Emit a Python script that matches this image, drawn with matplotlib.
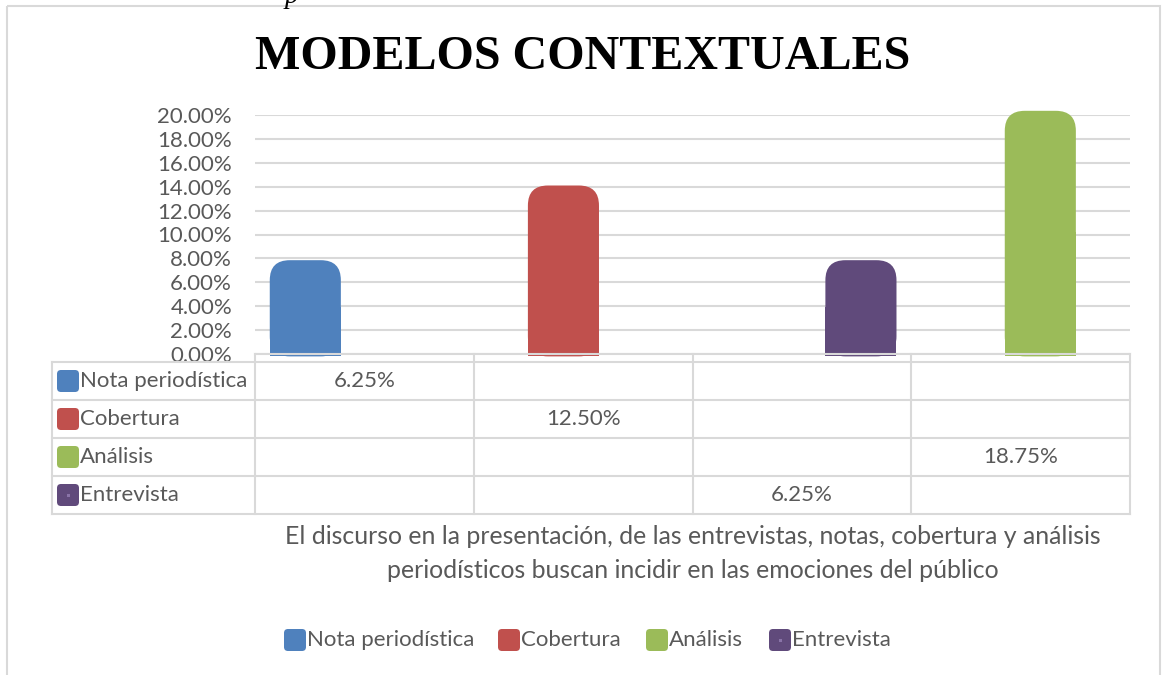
import numpy as np
import matplotlib
matplotlib.use('Agg')
import matplotlib.pyplot as plt
from matplotlib.patches import FancyBboxPatch, Rectangle
from matplotlib.ticker import FuncFormatter

# 数据
series = ['Nota periodística', 'Cobertura', 'Análisis', 'Entrevista']
colors = ['#4f81bd', '#c0504d', '#9bbb59', '#604a7b']
nota = [6.25, None, None, None]
cobertura = [None, 12.50, None, None]
analisis = [None, None, None, 18.75]
entrevista = [None, None, 6.25, None]
values = [nota, cobertura, analisis, entrevista]
n_cat = 4
yticks = np.arange(0, 20.01, 2)
titulo = 'MODELOS CONTEXTUALES'
eje_x = ['El discurso en la presentación, de las entrevistas, notas, cobertura y análisis',
         'periodísticos buscan incidir en las emociones del público']

plt.rcParams['font.family'] = ['Lato', 'DejaVu Sans']
gray = '#595959'
grid = '#d9d9d9'
fs = 16

W, H = 1166, 675
fig = plt.figure(figsize=(W / 100, H / 100), dpi=100)

# 绘图区 (像素)
L, R, T, B = 255, 1130, 115, 354
ax = fig.add_axes([L / W, 1 - B / H, (R - L) / W, (B - T) / H])
ax.set_xlim(-0.5, n_cat - 0.5)
ax.set_ylim(0, 20)
ax.set_yticks(yticks)
ax.yaxis.set_major_formatter(FuncFormatter(lambda v, p: f'{v:.2f}%'))
ax.tick_params(axis='y', length=0, labelsize=fs, labelcolor=gray, pad=16.5)
ax.set_xticks([])
for s in ax.spines.values():
    s.set_visible(False)
ax.grid(axis='y', color=grid, lw=1.5)
ax.set_axisbelow(True)

# 圆顶柱子
step, width, depth = 0.18, 0.325, 1.6
px_x = (R - L) / n_cat
px_y = (B - T) / 20
rad = 20 / px_x
aspect = (20 / px_y) / rad
for i, (vals, c) in enumerate(zip(values, colors)):
    off = (i - 1.5) * step
    for j, v in enumerate(vals):
        if v is None:
            continue
        top = v + depth
        ax.bar(j + off, top / 2 + 0.2, width=width, bottom=-0.2, color=c,
               clip_on=False, zorder=2)
        ax.add_patch(FancyBboxPatch((j + off - width / 2, -0.2), width, top + 0.2,
                                    boxstyle=f'round,pad=0,rounding_size={rad}',
                                    mutation_aspect=aspect, fc=c, ec='none',
                                    clip_on=False, zorder=2))

# 覆盖层: 表格, 标题, 图例
ov = fig.add_axes([0, 0, 1, 1], zorder=5)
ov.set_xlim(0, W)
ov.set_ylim(H, 0)
ov.axis('off')

def key(x, yc, c, dot=False):
    ov.add_patch(FancyBboxPatch((x, yc - 11), 22, 22,
                                boxstyle='round,pad=0,rounding_size=4',
                                fc=c, ec='none'))
    if dot:
        ov.add_patch(Rectangle((x + 10, yc - 1.5), 3, 3, fc='#8a74a8', ec='none'))

edges = [L + k * px_x for k in range(n_cat + 1)]
rows_y = [362, 400, 438, 476, 514]
tl = 52
ov.plot([L, R], [B, B], color=grid, lw=1.5)
for y in rows_y:
    ov.plot([tl, R], [y, y], color=grid, lw=1.5)
ov.plot([tl, tl], [rows_y[0], rows_y[-1]], color=grid, lw=1.5)
for x in edges:
    ov.plot([x, x], [B, rows_y[-1]], color=grid, lw=1.5)

for i, (name, vals, c) in enumerate(zip(series, values, colors)):
    yc = (rows_y[i] + rows_y[i + 1]) / 2
    key(57, yc, c, dot=(name == 'Entrevista'))
    ov.text(80, yc, name, fontsize=fs, color=gray, va='center', ha='left')
    for j, v in enumerate(vals):
        if v is None:
            continue
        ov.text(edges[j] + px_x / 2, yc, f'{v:.2f}%', fontsize=fs, color=gray,
                va='center', ha='center')

# 标题
ov.text(583, 57, titulo, family='Liberation Serif', weight='bold', fontsize=34.6,
        ha='center', va='center', color='black')
ov.text(292, 3, 'p', family='Liberation Serif', style='italic', fontsize=20,
        ha='center', va='baseline', color='black')

# 横轴标题
for k, line in enumerate(eje_x):
    ov.text((L + R) / 2, 537 + 33 * k, line, fontsize=17.9, color=gray,
            ha='center', va='center')

# 图例
leg_x = [284, 498, 646, 769]
for name, c, x in zip(series, colors, leg_x):
    key(x, 640, c, dot=(name == 'Entrevista'))
    ov.text(x + 23, 640, name, fontsize=fs, color=gray, va='center', ha='left')

# 外框
ov.add_patch(Rectangle((7, 6), 1153, 690, fc='none', ec=grid, lw=1.5, clip_on=False))

fig.savefig('out.png', dpi=100)
